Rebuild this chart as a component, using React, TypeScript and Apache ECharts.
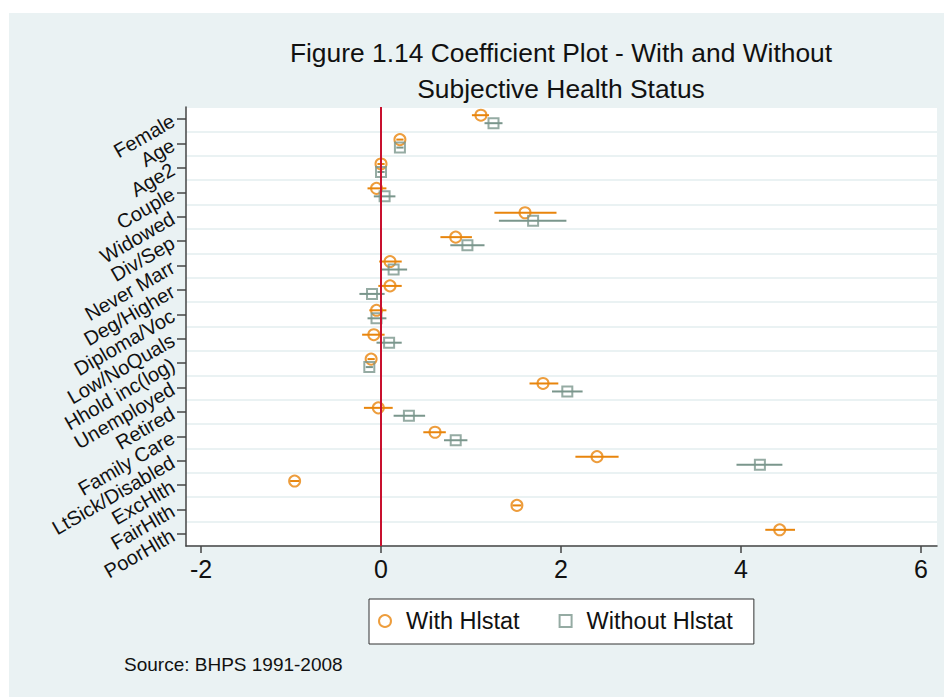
import React, { useEffect, useRef } from 'react';
import * as echarts from 'echarts';

const categories = [
  'Female', 'Age', 'Age2', 'Couple', 'Widowed', 'Div/Sep', 'Never Marr', 'Deg/Higher',
  'Diploma/Voc', 'Low/NoQuals', 'Hhold inc(log)', 'Unemployed', 'Retired', 'Family Care',
  'LtSick/Disabled', 'ExcHlth', 'FairHlth', 'PoorHlth',
];

const withEst = [1.11, 0.21, 0.0, -0.05, 1.6, 0.83, 0.1, 0.1, -0.05, -0.08, -0.11, 1.8, -0.03, 0.6, 2.4, -0.96, 1.51, 4.43];
const withLo = [1.01, 0.17, -0.04, -0.15, 1.26, 0.66, -0.02, -0.03, -0.13, -0.21, -0.15, 1.65, -0.19, 0.47, 2.16, -1.01, 1.46, 4.27];
const withHi = [1.2, 0.25, 0.04, 0.06, 1.95, 1.01, 0.23, 0.23, 0.06, 0.04, -0.07, 1.97, 0.13, 0.72, 2.64, -0.91, 1.56, 4.6];

const withoutEst = [1.25, 0.21, 0.0, 0.04, 1.69, 0.96, 0.14, -0.1, -0.05, 0.09, -0.13, 2.07, 0.31, 0.83, 4.21, null, null, null];
const withoutLo = [1.15, 0.17, -0.04, -0.08, 1.31, 0.77, 0.01, -0.24, -0.15, -0.05, -0.17, 1.9, 0.14, 0.7, 3.95, null, null, null];
const withoutHi = [1.35, 0.25, 0.04, 0.16, 2.06, 1.15, 0.29, 0.04, 0.06, 0.23, -0.09, 2.24, 0.49, 0.96, 4.46, null, null, null];

const xTicks = [-2, 0, 2, 4, 6];

const seriesNames = ['With Hlstat', 'Without Hlstat'];
const titleText = 'Figure 1.14 Coefficient Plot - With and Without\nSubjective Health Status';
const sourceText = 'Source: BHPS 1991-2008';

const FONT = "'Liberation Sans', Arial, Helvetica, sans-serif";
const ORANGE = '#e8850c';
const GRAY = '#7a968c';
const RED = '#c8102e';
const BG = '#eaf2f3';
const AXIS = '#444444';

export default function App() {
  const ref = useRef<HTMLDivElement>(null);

  useEffect(() => {
    if (!ref.current) return;
    const chart = echarts.init(ref.current, null, { renderer: 'svg' });

    const points = (est: (number | null)[]) =>
      est.map((v, i) => (v == null ? null : [v, i])).filter((d) => d != null);
    const bars = (lo: (number | null)[], hi: (number | null)[]) =>
      lo.map((v, i) => (v == null || hi[i] == null ? null : [v, hi[i], i])).filter((d) => d != null);

    const renderBar = (offset: number, color: string) => (_params: any, api: any) => {
      const y = api.value(2);
      const p1 = api.coord([api.value(0), y]);
      const p2 = api.coord([api.value(1), y]);
      return {
        type: 'line',
        shape: { x1: p1[0], y1: p1[1] + offset, x2: p2[0], y2: p2[1] + offset },
        style: { stroke: color, lineWidth: 2 },
      };
    };

    chart.setOption({
      animation: false,
      backgroundColor: BG,
      textStyle: { fontFamily: FONT },
      title: [
        {
          text: titleText,
          left: 552,
          top: 22,
          textAlign: 'center',
          padding: 0,
          textStyle: { fontFamily: FONT, fontSize: 26.4, fontWeight: 'normal', color: '#111', lineHeight: 36 },
        },
        {
          text: sourceText,
          left: 115,
          top: 642,
          padding: 0,
          textStyle: { fontFamily: FONT, fontSize: 19, fontWeight: 'normal', color: '#111' },
        },
      ],
      legend: {
        data: [
          { name: seriesNames[0], icon: 'circle' },
          { name: seriesNames[1], icon: 'rect' },
        ],
        left: 360,
        top: 586,
        orient: 'horizontal',
        padding: [10, 21, 11, 9],
        itemWidth: 12,
        itemHeight: 12,
        itemGap: 39,
        backgroundColor: '#fff',
        borderColor: '#333',
        borderWidth: 1,
        selectedMode: false,
        textStyle: { fontFamily: FONT, fontSize: 23.5, color: '#111', padding: [0, 0, 0, 10] },
      },
      grid: {
        left: 177,
        right: 7,
        top: 94,
        bottom: 151,
        show: true,
        backgroundColor: '#fff',
        borderWidth: 0,
      },
      xAxis: {
        type: 'value',
        min: -2.167,
        max: 6.178,
        splitLine: { show: false },
        axisLine: { show: true, onZero: false, lineStyle: { color: AXIS, width: 1.5 } },
        axisTick: { show: true, length: 7, lineStyle: { color: AXIS, width: 1.5 }, customValues: xTicks },
        axisLabel: {
          fontSize: 25,
          color: '#111',
          margin: 10,
          fontFamily: FONT,
          customValues: xTicks,
        },
      },
      yAxis: {
        type: 'category',
        data: categories,
        inverse: true,
        boundaryGap: true,
        axisLine: { show: true, onZero: false, lineStyle: { color: AXIS, width: 1.5 } },
        axisTick: { show: true, alignWithLabel: true, length: 9, lineStyle: { color: AXIS, width: 1.5 } },
        axisLabel: { interval: 0, rotate: 30, fontSize: 20, color: '#111', margin: 13, fontFamily: FONT },
        splitLine: { show: true, interval: 0, lineStyle: { color: BG, width: 2 } },
      },
      series: [
        {
          name: 'With Hlstat CI',
          type: 'custom',
          renderItem: renderBar(-4, ORANGE),
          encode: { x: [0, 1], y: 2 },
          data: bars(withLo, withHi),
          z: 2,
        },
        {
          name: 'Without Hlstat CI',
          type: 'custom',
          renderItem: renderBar(4, GRAY),
          encode: { x: [0, 1], y: 2 },
          data: bars(withoutLo, withoutHi),
          z: 2,
        },
        {
          name: seriesNames[0],
          type: 'scatter',
          symbol: 'circle',
          symbolSize: 11,
          symbolOffset: [0, -4],
          itemStyle: { color: 'rgba(0,0,0,0)', borderColor: ORANGE, borderWidth: 2 },
          data: points(withEst),
          z: 3,
          markLine: {
            silent: true,
            symbol: 'none',
            label: { show: false },
            lineStyle: { color: RED, width: 2, type: 'solid' },
            data: [{ xAxis: 0 }],
          },
        },
        {
          name: seriesNames[1],
          type: 'scatter',
          symbol: 'rect',
          symbolSize: 10,
          symbolOffset: [0, 4],
          itemStyle: { color: 'rgba(0,0,0,0)', borderColor: GRAY, borderWidth: 2 },
          data: points(withoutEst),
          z: 3,
        },
      ],
    });

    return () => chart.dispose();
  }, []);

  return (
    <div style={{ position: 'absolute', left: 0, top: 0, width: 944, height: 697, background: '#fff' }}>
      <div ref={ref} style={{ position: 'absolute', left: 9, top: 13, width: 935, height: 684 }} />
    </div>
  );
}
